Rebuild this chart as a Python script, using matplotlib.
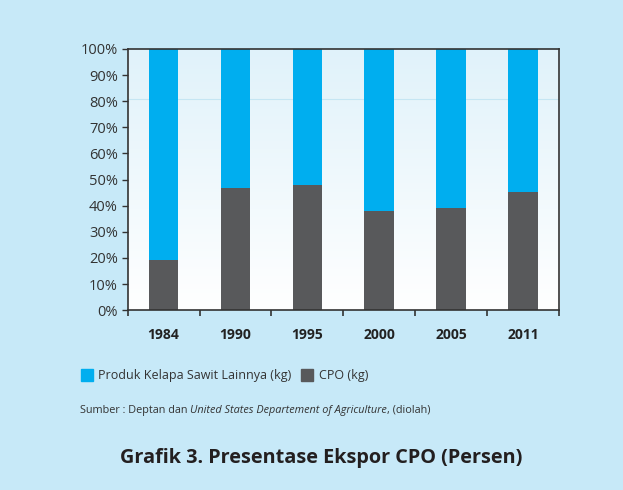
import numpy as np
import matplotlib
matplotlib.use("Agg")
import matplotlib.pyplot as plt
from matplotlib.patches import Rectangle
from matplotlib.colors import LinearSegmentedColormap

years = ["1984", "1990", "1995", "2000", "2005", "2011"]
cpo = [19.2, 46.7, 47.9, 37.9, 39.1, 45.2]
lainnya = [100 - v for v in cpo]
yticks = [0, 10, 20, 30, 40, 50, 60, 70, 80, 90, 100]
legend_labels = ["Produk Kelapa Sawit Lainnya (kg)", "CPO (kg)"]
source_text_parts = ["Sumber : Deptan dan ", "United States Departement of Agriculture", ", (diolah)"]
title = "Grafik 3. Presentase Ekspor CPO (Persen)"

BG = "#C7E9F8"
BLUE = "#00AEEF"
DARK = "#58595B"
TXT = "#333333"

plt.rcParams['font.family'] = ['Open Sans', 'DejaVu Sans']

fig = plt.figure(figsize=(6.23, 4.9), dpi=100, facecolor=BG)
ax = fig.add_axes([0.205, 0.367, 0.692, 0.533])

x = np.arange(len(years))
grad = np.linspace(0, 1, 256).reshape(-1, 1)
cmap = LinearSegmentedColormap.from_list("g", ["#FFFFFF", "#E0F2FA"])
ax.imshow(grad, extent=[-0.5, len(years) - 0.5, 0, 100], origin="lower",
          aspect="auto", cmap=cmap, zorder=0)
ax.axhline(80.8, color="#C5E6F3", lw=0.8, zorder=1)

bw = 0.41
ax.bar(x, cpo, width=bw, color=DARK, zorder=2, label=legend_labels[1])
ax.bar(x, lainnya, bottom=cpo, width=bw, color=BLUE, zorder=2, label=legend_labels[0])

ax.set_xlim(-0.5, len(years) - 0.5)
ax.set_ylim(0, 100)
ax.set_yticks(yticks)
ax.set_yticklabels([f"{v}%" for v in yticks], fontsize=10.5, color=TXT)
ax.set_xticks(x)
ax.set_xticklabels(years, fontsize=10, fontweight="bold", color="#222222")
ax.set_xticks(np.arange(-0.5, len(years)), minor=True)
ax.tick_params(axis="x", which="major", length=0, pad=13)
ax.tick_params(axis="x", which="minor", length=4, direction="out", color="#333333", width=1.2)
ax.tick_params(axis="y", length=4, direction="out", color="#333333", width=1.0, pad=3)
for s in ax.spines.values():
    s.set_color("#333333")
    s.set_linewidth(1.2)
ax.set_facecolor("white")

# legend
fig.patches.append(Rectangle((81 / 623, 1 - 381 / 490), 12 / 623, 12 / 490,
                             transform=fig.transFigure, color=BLUE))
fig.text(98 / 623, 1 - 375 / 490, legend_labels[0], fontsize=9.0, color=TXT, va="center")
fig.patches.append(Rectangle((301 / 623, 1 - 381 / 490), 12 / 623, 12 / 490,
                             transform=fig.transFigure, color=DARK))
fig.text(319 / 623, 1 - 375 / 490, legend_labels[1], fontsize=9.0, color=TXT, va="center")

# source line
fs = 7.8
t1 = fig.text(80 / 623, 1 - 410 / 490, source_text_parts[0], fontsize=fs, color=TXT, va="center")
fig.canvas.draw()
r = fig.canvas.get_renderer()
bb = t1.get_window_extent(r)
t2 = fig.text(bb.x1 / fig.bbox.width, 1 - 410 / 490, source_text_parts[1], fontsize=fs,
              color=TXT, va="center", style="italic")
bb2 = t2.get_window_extent(r)
fig.text(bb2.x1 / fig.bbox.width, 1 - 410 / 490, source_text_parts[2], fontsize=fs,
         color=TXT, va="center")

fig.text(321 / 623, 1 - 458 / 490, title, fontsize=14.3, fontweight="bold", color="#231F20",
         ha="center", va="center")

fig.savefig("out.png", dpi=100, facecolor=BG)
